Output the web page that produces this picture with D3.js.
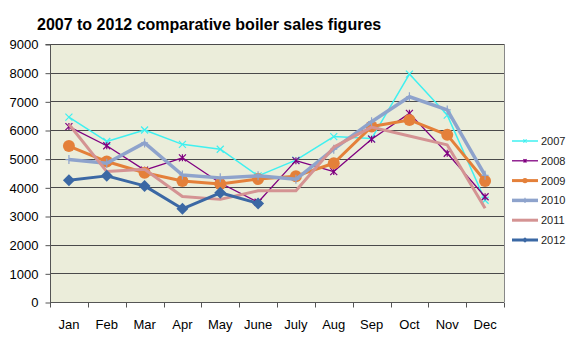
<!DOCTYPE html>
<html>
<head>
<meta charset="utf-8">
<script src="https://cdn.jsdelivr.net/npm/d3@7"></script>
<style>
  body { margin: 0; background: #fff; }
  svg { font-family: Arial, "Liberation Sans", sans-serif; }
</style>
</head>
<body>
<div id="chart"></div>
<script>
// ---- Data ----
const months = ["Jan", "Feb", "Mar", "Apr", "May", "June", "July", "Aug", "Sep", "Oct", "Nov", "Dec"];
const yTicks = [0, 1000, 2000, 3000, 4000, 5000, 6000, 7000, 8000, 9000];

const sales2007 = [6450, 5600, 6000, 5500, 5330, 4400, 4950, 5770, 5700, 7950, 6520, 3550];
const sales2008 = [6120, 5450, 4600, 5030, 4150, 3480, 4930, 4550, 5680, 6580, 5190, 3670];
const sales2009 = [5440, 4900, 4510, 4220, 4120, 4290, 4390, 4840, 6120, 6350, 5830, 4220];
const sales2010 = [4970, 4840, 5550, 4430, 4330, 4400, 4280, 5330, 6290, 7160, 6700, 4420];
const sales2011 = [6200, 4550, 4630, 3680, 3580, 3880, 3880, 5400, 6100, 5790, 5480, 3270];
const sales2012 = [4250, 4400, 4050, 3250, 3810, 3440];

const series = [
  { name: "2007", values: sales2007, color: "#3ff0f0", width: 1.5, marker: "x" },
  { name: "2008", values: sales2008, color: "#800080", width: 1.3, marker: "star" },
  { name: "2009", values: sales2009, color: "#e4803a", width: 3, marker: "circle" },
  { name: "2010", values: sales2010, color: "#8ea3cc", width: 3.5, marker: "plus" },
  { name: "2011", values: sales2011, color: "#d49393", width: 3, marker: "none" },
  { name: "2012", values: sales2012, color: "#3b68a4", width: 3, marker: "diamond" }
];

// ---- Layout ----
const W = 578, H = 351;
const plot = { left: 50, top: 44, right: 504, bottom: 302 };

const svg = d3.select("#chart").append("svg")
  .attr("width", W).attr("height", H);

svg.append("text")
  .attr("x", 37).attr("y", 30)
  .attr("font-size", 16).attr("font-weight", "bold")
  .attr("fill", "#000")
  .text("2007 to 2012 comparative boiler sales figures");

const x = d3.scaleBand().domain(months).range([plot.left, plot.right]);
const y = d3.scaleLinear().domain([0, 9000]).range([plot.bottom, plot.top]);

// plot background
svg.append("rect")
  .attr("x", plot.left).attr("y", plot.top)
  .attr("width", plot.right - plot.left).attr("height", plot.bottom - plot.top)
  .attr("fill", "#ebedda");

// gridlines
svg.append("g").selectAll("line")
  .data(yTicks.filter(t => t > 0))
  .join("line")
  .attr("x1", plot.left).attr("x2", plot.right)
  .attr("y1", d => Math.round(y(d)) + 0.5).attr("y2", d => Math.round(y(d)) + 0.5)
  .attr("stroke", "#4a4a4a").attr("stroke-width", 1);

// right border
svg.append("line")
  .attr("x1", plot.right + 0.5).attr("x2", plot.right + 0.5)
  .attr("y1", plot.top).attr("y2", plot.bottom)
  .attr("stroke", "#888");

// ---- Axes ----
const yAxis = svg.append("g")
  .attr("transform", `translate(${plot.left + 0.5},0.5)`)
  .call(d3.axisLeft(y).tickValues(yTicks).tickSize(5).tickPadding(7).tickFormat(d3.format("d")));
yAxis.select(".domain").attr("stroke", "#555").attr("d", `M-5,${y(9000)}H0V${y(0)}`);
yAxis.selectAll(".tick line").attr("stroke", "#555");
yAxis.selectAll("text").attr("font-size", 13).attr("fill", "#000");

const xAxis = svg.append("g")
  .attr("transform", `translate(0,${plot.bottom + 0.5})`);
xAxis.append("line")
  .attr("x1", plot.left).attr("x2", plot.right)
  .attr("stroke", "#555");
xAxis.selectAll(".xtick")
  .data(months.concat(["end"]))
  .join("line")
  .attr("x1", (d, i) => Math.round(plot.left + i * x.step()) + 0.5)
  .attr("x2", (d, i) => Math.round(plot.left + i * x.step()) + 0.5)
  .attr("y1", 0).attr("y2", 5)
  .attr("stroke", "#555");
xAxis.selectAll(".xlab")
  .data(months)
  .join("text")
  .attr("x", d => x(d) + x.bandwidth() / 2)
  .attr("y", 26)
  .attr("text-anchor", "middle")
  .attr("font-size", 13)
  .text(d => d);

// ---- Lines and markers ----
const cx = (d, i) => x(months[i]) + x.bandwidth() / 2;
const line = d3.line().x(cx).y(d => y(d));

function drawMarker(g, type, color, px, py, scale = 1) {
  const s = 3.5 * scale;
  if (type === "x" || type === "star") {
    g.append("path")
      .attr("d", `M${px - s},${py - s}L${px + s},${py + s}M${px - s},${py + s}L${px + s},${py - s}` +
        (type === "star" ? `M${px},${py - s}L${px},${py + s}` : ""))
      .attr("stroke", color).attr("stroke-width", 1.2).attr("fill", "none");
  } else if (type === "plus") {
    g.append("path")
      .attr("d", `M${px - s},${py}L${px + s},${py}M${px},${py - s - 1}L${px},${py + s + 1}`)
      .attr("stroke", color).attr("stroke-width", 1.2).attr("fill", "none");
  } else if (type === "circle") {
    g.append("circle").attr("cx", px).attr("cy", py).attr("r", 6 * scale).attr("fill", color);
  } else if (type === "diamond") {
    const r = 6 * scale;
    g.append("path")
      .attr("d", `M${px},${py - r}L${px + r},${py}L${px},${py + r}L${px - r},${py}Z`)
      .attr("fill", color);
  }
}

series.forEach(s => {
  const g = svg.append("g");
  g.append("path")
    .datum(s.values)
    .attr("d", line)
    .attr("fill", "none")
    .attr("stroke", s.color)
    .attr("stroke-width", s.width)
    .attr("stroke-linejoin", "round");
  s.values.forEach((v, i) => drawMarker(g, s.marker, s.color, cx(v, i), y(v)));
});

// ---- Legend ----
const legend = svg.append("g");
series.forEach((s, i) => {
  const ly = 141 + i * 19.8;
  const g = legend.append("g");
  g.append("line")
    .attr("x1", 512).attr("x2", 538).attr("y1", ly).attr("y2", ly)
    .attr("stroke", s.color).attr("stroke-width", s.width);
  drawMarker(g, s.marker, s.color, 525, ly, 0.45);
  g.append("text")
    .attr("x", 541).attr("y", ly + 4)
    .attr("font-size", 11).attr("fill", "#222")
    .text(s.name);
});
</script>
</body>
</html>
